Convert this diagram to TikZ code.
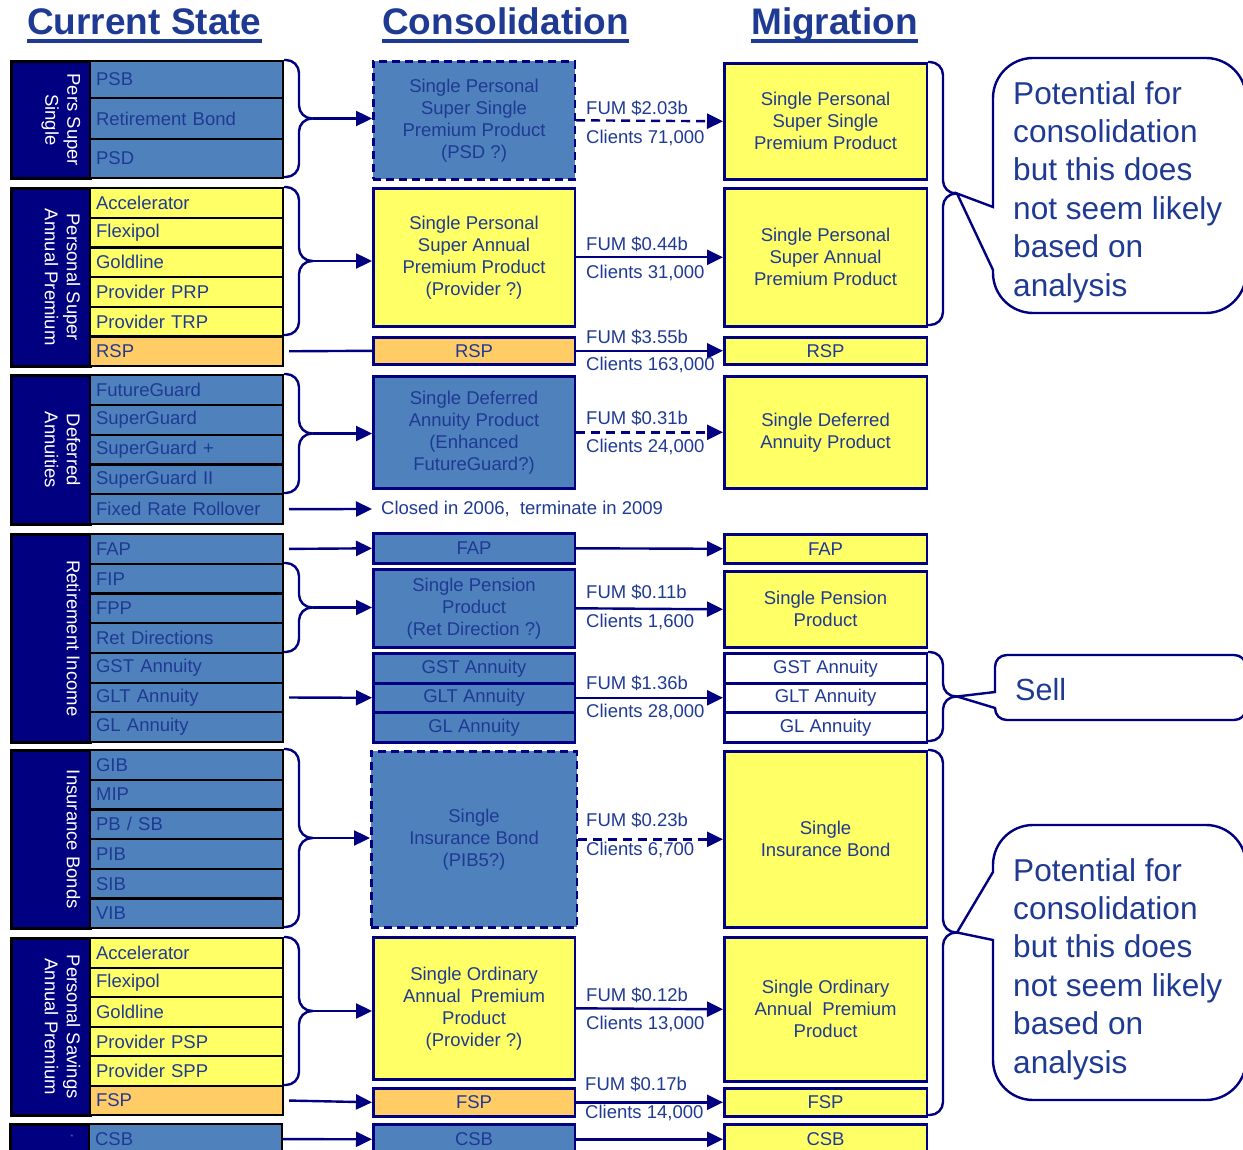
\documentclass[tikz,border=0pt]{standalone}
\usepackage{fontspec}
\setmainfont{Liberation Sans}
\usepackage{xcolor}
\usetikzlibrary{arrows.meta,positioning}
\definecolor{navy}{HTML}{000080}
\definecolor{ink}{HTML}{1F3A93}
\definecolor{steel}{HTML}{4F81BD}
\definecolor{lemon}{HTML}{FFFF66}
\definecolor{apricot}{HTML}{FFCC66}
\newcommand{\bodyfont}{\fontsize{18.5pt}{22pt}\selectfont}
\newcommand{\bigfont}{\fontsize{31.6pt}{38.4pt}\selectfont}
\newcommand{\titlefont}{\fontsize{37pt}{40pt}\selectfont\bfseries}
\tikzset{
  itembox/.style={draw=black, line width=2.2pt, anchor=north west, text width=181pt, inner xsep=6pt, inner ysep=0pt, minimum height=29.7pt, align=left, font=\bodyfont, text=ink},
  grpbox/.style={draw=black, line width=2.6pt, fill=navy, anchor=north west, minimum width=79pt, inner sep=0pt},
  grplabel/.style={rotate=-90, anchor=north, align=center, text=white, font=\bodyfont, inner sep=0pt},
  consbox/.style={draw=navy, line width=2.6pt, anchor=north west, minimum width=201.5pt, inner sep=0pt, align=center, font=\bodyfont, text=ink},
  migbox/.style={consbox, minimum width=202.5pt, fill=lemon},
  tentative/.style={dash pattern=on 8pt off 5pt},
  flowarrow/.style={draw=navy, line width=2.4pt, -{Triangle[length=16pt,width=15pt]}},
  dashflow/.style={flowarrow, dash pattern=on 9pt off 6pt},
  plainline/.style={draw=navy, line width=2.4pt},
  bracestyle/.style={draw=navy, line width=2.4pt, rounded corners=13pt},
  fumlabel/.style={anchor=west, inner sep=0pt, font=\bodyfont, text=ink},
  calloutline/.style={draw=navy, line width=2.4pt, fill=white},
  titletext/.style={anchor=base west, inner sep=0pt, font=\titlefont, text=ink}
}
% right-hand curly brace: x, top, bottom, name of tip
\newcommand{\prodbrace}[4]{%
  \coordinate (#4) at ({#1+29},{(#2+#3)/2});
  \draw[bracestyle] (#1,#2) -- ({#1+15},#2) -- ({#1+15},{(#2+#3)/2}) -- (#4);
  \draw[bracestyle] (#1,#3) -- ({#1+15},#3) -- ({#1+15},{(#2+#3)/2}) -- (#4);
}

\begin{document}
\begin{tikzpicture}[x=1pt, y=-1pt]
  \useasboundingbox (0,0) rectangle (1243,1150);
  \clip (0,0) rectangle (1243,1150);

  % column titles
  \node[titletext] (tcur) at (27,35) {Current State};
  \node[titletext] (tcon) at (382,35) {Consolidation};
  \node[titletext] (tmig) at (751,35) {Migration};
  \foreach \t in {tcur,tcon,tmig}
    \draw[ink, line width=3.8pt] ([yshift=-6pt]\t.base west) -- ([yshift=-6pt]\t.base east);

  % current state
  \node[grpbox, minimum height=117pt] (pss) at (10,60) {};
  \node[grplabel] at ([xshift=-11pt]pss.east) {Pers Super\\Single};
  \node[itembox, fill=steel, minimum height=37pt] (pss-1) at (89,60) {PSB};
  \node[itembox, fill=steel, minimum height=41pt] (pss-2) at (89,97) {Retirement Bond};
  \node[itembox, fill=steel, minimum height=39pt] (pss-3) at (89,138) {PSD};

  \node[grpbox, minimum height=178pt] (psa) at (10,187) {};
  \node[grplabel] at ([xshift=-11pt]psa.east) {Personal Super\\Annual Premium};
  \foreach \lbl/\tone [count=\i] in {Accelerator/lemon, Flexipol/lemon, Goldline/lemon, Provider PRP/lemon, Provider TRP/lemon, RSP/apricot}
    \node[itembox, fill=\tone] (psa-\i) at (89,{187+(\i-1)*29.67}) {\lbl};

  \node[grpbox, minimum height=149pt] (da) at (10,374) {};
  \node[grplabel] at ([xshift=-11pt]da.east) {Deferred\\Annuities};
  \foreach \lbl [count=\i] in {FutureGuard, SuperGuard, SuperGuard +, SuperGuard II, Fixed Rate Rollover}
    \node[itembox, fill=steel] (da-\i) at (89,{374+(\i-1)*29.8}) {\lbl};

  \node[grpbox, minimum height=208pt] (ri) at (10,533) {};
  \node[grplabel] at ([xshift=-11pt]ri.east) {Retirement Income};
  \foreach \lbl [count=\i] in {FAP, FIP, FPP, Ret Directions, GST Annuity, GLT Annuity, GL Annuity}
    \node[itembox, fill=steel] (ri-\i) at (89,{533+(\i-1)*29.71}) {\lbl};

  \node[grpbox, minimum height=178pt] (ib) at (10,749) {};
  \node[grplabel] at ([xshift=-11pt]ib.east) {Insurance Bonds};
  \foreach \lbl [count=\i] in {GIB, MIP, PB / SB, PIB, SIB, VIB}
    \node[itembox, fill=steel] (ib-\i) at (89,{749+(\i-1)*29.67}) {\lbl};

  \node[grpbox, minimum height=177pt] (psv) at (10,937) {};
  \node[grplabel] at ([xshift=-11pt]psv.east) {Personal Savings\\Annual Premium};
  \foreach \lbl/\tone [count=\i] in {Accelerator/lemon, Flexipol/lemon, Goldline/lemon, Provider PSP/lemon, Provider SPP/lemon, FSP/apricot}
    \node[itembox, fill=\tone] (psv-\i) at (89,{937+(\i-1)*29.5}) {\lbl};

  \node[grpbox, minimum height=40pt] (cs) at (9,1123) {};
  \node[text=steel, font=\scriptsize, inner sep=0pt] at (72,1137) {*};
  \node[itembox, fill=steel, minimum height=30pt] (cs-1) at (88,1123) {CSB};

  % consolidation
  \node[consbox, tentative, fill=steel, minimum height=118pt] (conPSS) at (372,60) {Single Personal\\Super Single\\Premium Product\\(PSD ?)};
  \node[consbox, fill=lemon, minimum height=138pt] (conPSA) at (372,187) {Single Personal\\Super Annual\\Premium Product\\(Provider ?)};
  \node[consbox, fill=apricot, minimum height=27pt] (conRSP) at (372,336) {RSP};
  \node[consbox, fill=steel, minimum height=112pt] (conDA) at (372,375) {Single Deferred\\Annuity Product\\(Enhanced\\FutureGuard?)};
  \node[fumlabel, inner xsep=9pt] (closed) at (372,509) {Closed in 2006,~ terminate in 2009};
  \node[consbox, fill=steel, minimum height=30pt] (conFAP) at (372,532) {FAP};
  \node[consbox, fill=steel, minimum height=78pt] (conSPP) at (372,568) {Single Pension\\Product\\(Ret Direction ?)};
  \node[consbox, fill=steel, minimum height=30pt] (conGST) at (372,652) {GST Annuity};
  \node[consbox, fill=steel, minimum height=29pt] (conGLT) at (372,682) {GLT Annuity};
  \node[consbox, fill=steel, minimum height=30pt] (conGL) at (372,711) {GL Annuity};
  \node[consbox, tentative, fill=steel, minimum width=205.5pt, minimum height=176pt] (conSIB) at (370,750) {Single\\Insurance Bond\\(PIB5?)};
  \node[consbox, fill=lemon, minimum height=142pt] (conSOA) at (372,936) {Single Ordinary\\Annual~ Premium\\Product\\(Provider ?)};
  \node[consbox, fill=apricot, minimum height=28pt] (conFSP) at (372,1087) {FSP};
  \node[consbox, fill=steel, minimum height=30pt] (conCSB) at (372,1123) {CSB};

  % migration
  \node[migbox, minimum height=116pt] (migPSS) at (723,62) {Single Personal\\Super Single\\Premium Product};
  \node[migbox, minimum height=138pt] (migPSA) at (723,187) {Single Personal\\Super Annual\\Premium Product};
  \node[migbox, minimum height=27pt] (migRSP) at (723,336) {RSP};
  \node[migbox, minimum height=112pt] (migDA) at (723,375) {Single Deferred\\Annuity Product};
  \node[migbox, minimum height=29pt] (migFAP) at (723,533) {FAP};
  \node[migbox, minimum height=76pt] (migSPP) at (723,570) {Single Pension\\Product};
  \node[migbox, fill=white, minimum height=30pt] (migGST) at (723,652) {GST Annuity};
  \node[migbox, fill=white, minimum height=29pt] (migGLT) at (723,682) {GLT Annuity};
  \node[migbox, fill=white, minimum height=30pt] (migGL) at (723,711) {GL Annuity};
  \node[migbox, minimum height=176pt] (migSIB) at (723,750) {Single\\Insurance Bond};
  \node[migbox, minimum height=144pt] (migSOA) at (723,936) {Single Ordinary\\Annual~ Premium\\Product};
  \node[migbox, minimum height=28pt] (migFSP) at (723,1087) {FSP};
  \node[migbox, minimum height=30pt] (migCSB) at (723,1123) {CSB};

  % braces
  \prodbrace{284}{60}{177}{pssbr}
  \prodbrace{284}{187}{335}{psabr}
  \prodbrace{284}{374}{493}{dabr}
  \prodbrace{284}{563}{652}{ribr}
  \prodbrace{284}{749}{927}{ibbr}
  \prodbrace{284}{937}{1085}{psvbr}
  \prodbrace{928}{62}{325}{migbr1}
  \prodbrace{928}{652}{741}{sellbr}
  \prodbrace{928}{750}{1115}{migbr2}

  % current -> consolidation
  \draw[flowarrow] (pssbr) -- (pssbr -| conPSS.west);
  \draw[flowarrow] (psabr) -- (psabr -| conPSA.west);
  \draw[plainline, shorten <=5pt] (psa-6.east) -- (conRSP.west);
  \draw[flowarrow] (dabr) -- (dabr -| conDA.west);
  \draw[flowarrow, shorten <=5pt] (da-5.east) -- (closed.west);
  \draw[flowarrow, shorten <=5pt] (ri-1.east) -- (conFAP.west);
  \draw[flowarrow] (ribr) -- (ribr -| conSPP.west);
  \draw[flowarrow, shorten <=5pt] (ri-6.east) -- (conGLT.west);
  \draw[flowarrow] (ibbr) -- (ibbr -| conSIB.west);
  \draw[flowarrow] (psvbr) -- (psvbr -| conSOA.west);
  \draw[flowarrow, shorten <=5pt] (psv-6.east) -- (conFSP.west);
  \draw[flowarrow] (cs-1.east) -- (conCSB.west);

  % consolidation -> migration
  \draw[dashflow] (conPSS.east) -- (migPSS.west);
  \draw[flowarrow] (conPSA.east) -- (migPSA.west);
  \draw[flowarrow] (conRSP.east) -- (migRSP.west);
  \draw[dashflow] (conDA.east) -- (migDA.west);
  \draw[flowarrow] (conFAP.east) -- (migFAP.west);
  \draw[flowarrow] (conSPP.east) -- (migSPP.west);
  \draw[flowarrow] (conGLT.east) -- (migGLT.west);
  \draw[dashflow] (conSIB.east) -- (migSIB.west);
  \draw[flowarrow] (conSOA.east) -- (migSOA.west);
  \draw[flowarrow] (conFSP.east) -- (migFSP.west);
  \draw[flowarrow] (conCSB.east) -- (migCSB.west);

  % FUM and client counts
  \node[fumlabel] (fum1) at (586,108) {FUM \$2.03b};
  \node[fumlabel] (cli1) at (586,138) {Clients 71,000};
  \node[fumlabel] (fum2) at (586,244) {FUM \$0.44b};
  \node[fumlabel] (cli2) at (586,273) {Clients 31,000};
  \node[fumlabel] (fum3) at (586,337) {FUM \$3.55b};
  \node[fumlabel] (cli3) at (586,365) {Clients 163,000};
  \node[fumlabel] (fum4) at (586,418) {FUM \$0.31b};
  \node[fumlabel] (cli4) at (586,447) {Clients 24,000};
  \node[fumlabel] (fum5) at (586,592) {FUM \$0.11b};
  \node[fumlabel] (cli5) at (586,622) {Clients 1,600};
  \node[fumlabel] (fum6) at (586,683) {FUM \$1.36b};
  \node[fumlabel] (cli6) at (586,712) {Clients 28,000};
  \node[fumlabel] (fum7) at (586,820) {FUM \$0.23b};
  \node[fumlabel] (cli7) at (586,850) {Clients 6,700};
  \node[fumlabel] (fum8) at (586,995) {FUM \$0.12b};
  \node[fumlabel] (cli8) at (586,1024) {Clients 13,000};
  \node[fumlabel] (fum9) at (585,1084) {FUM \$0.17b};
  \node[fumlabel] (cli9) at (585,1113) {Clients 14,000};

  % callouts
  \draw[calloutline] (migbr1) -- (993,207) -- (993,98) .. controls (993,76) and (1011,58) .. (1033,58) -- (1206,58) .. controls (1228,58) and (1246,76) .. (1246,98) -- (1246,273) .. controls (1246,295) and (1228,313) .. (1206,313) -- (1033,313) .. controls (1011,313) and (993,295) .. (993,273) -- (993,270) -- cycle;
  \node[anchor=north west, align=left, inner sep=0pt, font=\bigfont, text=ink] (note1) at (1013,81) {Potential for\\consolidation\\but this does\\not seem likely\\based on\\analysis};

  \draw[calloutline] (sellbr) -- (995,692) -- (995,667) .. controls (995,660) and (1000,655) .. (1007,655) -- (1234,655) .. controls (1241,655) and (1246,660) .. (1246,667) -- (1246,708) .. controls (1246,715) and (1241,720) .. (1234,720) -- (1007,720) .. controls (1000,720) and (995,715) .. (995,708) -- cycle;
  \node[anchor=base west, inner sep=0pt, font=\fontsize{30.6pt}{36pt}\selectfont, text=ink] (sell) at (1015,700) {Sell};

  \draw[calloutline] (migbr2) -- (993,872) -- (993,865) .. controls (993,843) and (1011,825) .. (1033,825) -- (1206,825) .. controls (1228,825) and (1246,843) .. (1246,865) -- (1246,1060) .. controls (1246,1082) and (1228,1100) .. (1206,1100) -- (1033,1100) .. controls (1011,1100) and (993,1082) .. (993,1060) -- (993,940) -- cycle;
  \node[anchor=north west, align=left, inner sep=0pt, font=\bigfont, text=ink] (note2) at (1013,858) {Potential for\\consolidation\\but this does\\not seem likely\\based on\\analysis};
\end{tikzpicture}
\end{document}
